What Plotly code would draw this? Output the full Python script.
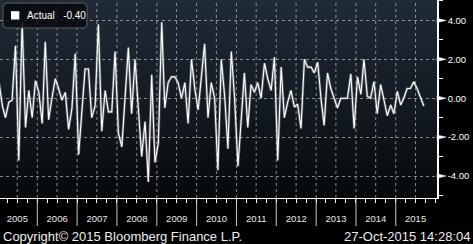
import base64
import pandas as pd
import plotly.graph_objects as go

# ---------------- data ----------------
dates = pd.date_range("2005-01-01", "2015-09-01", freq="MS") + pd.Timedelta(days=14)
values = [
    0.8, -0.4, -1.0, -0.2, -0.1, 2.7, -3.2, 3.9, -1.5, 0.4, -1.0, 0.9,      # 2005
    0.3, -1.3, 2.9, -1.1, 0.0, 1.0, 0.5, -0.1, 0.3, -1.6, -0.5, 2.3,        # 2006
    -2.9, -0.7, 1.5, 1.5, -1.0, -0.4, 3.8, -1.7, 0.4, -0.7, -0.7, 2.4,      # 2007
    -1.8, -2.5, 0.0, 2.6, -0.8, 2.0, -0.5, -3.0, -1.2, -4.3, 1.2, -3.3,     # 2008
    -2.3, 3.9, -0.5, 0.8, 1.1, 1.1, 0.8, 0.0, 0.8, -1.3, 2.0, 0.5,          # 2009
    -0.6, 1.0, 2.8, -1.0, 0.8, 0.0, -3.7, 2.0, 0.1, -2.6, 2.4, 0.0,         # 2010
    -3.5, -1.0, 1.3, -1.5, 0.7, 0.3, 0.8, 0.0, 1.8, 1.0, 0.4, 2.1,          # 2011
    -3.2, 1.6, -1.0, -0.2, 0.4, -0.45, -0.3, -1.55, 2.0, 1.6, 1.6, 1.3,     # 2012
    1.85, -0.05, -1.4, 1.3, 0.5, 0.0, -0.5, 0.0, 0.0, 0.0, 1.25, -1.55,     # 2013
    1.1, 0.2, 2.0, 0.1, 0.0, 0.85, -0.8, 0.7, -0.1, -0.9, -0.35, -0.8,      # 2014
    0.35, -0.35, 0.0, 0.5, 0.5, 0.85, 0.5, 0.0, -0.4,                       # 2015
]
series_name = "Actual"
y_ticks = [-4, -2, 0, 2, 4]
y_minor = [-5, -3, -1, 1, 3, 5]
years = list(range(2005, 2016))
year_labels = [str(y) for y in years]
x_range = ["2005-01-24", "2016-01-14"]
y_range = [-5.13, 5.05]
footer_left = "Copyright\u00a9 2015 Bloomberg Finance L.P."
footer_right = "27-Oct-2015 14:28:04"

# ---------------- geometry helpers ----------------
W, H = 473, 244
ML, MR, MT, MB = 0, 36, 0, 46
PW = W - ML - MR
PH = H - MT - MB
FONT = "Liberation Sans"


def px(x):
    return x / PW


def py(y):
    return 1 - y / PH


def vpaper(v):
    return (v - y_range[0]) / (y_range[1] - y_range[0])


# ---------------- background gradient ----------------
svg = (
    "<svg xmlns='http://www.w3.org/2000/svg' width='100' height='100' "
    "viewBox='0 0 100 100' preserveAspectRatio='none'>"
    "<defs><linearGradient id='g' x1='0' y1='0' x2='0' y2='1'>"
    "<stop offset='0' stop-color='#1f2b37'/>"
    "<stop offset='0.5' stop-color='#131b23'/>"
    "<stop offset='1' stop-color='#07090b'/>"
    "</linearGradient></defs>"
    "<rect width='100' height='100' fill='url(#g)'/></svg>"
)
bg_src = "data:image/svg+xml;base64," + base64.b64encode(svg.encode()).decode()

fig = go.Figure()
fig.add_trace(go.Scatter(
    x=dates, y=values, mode="lines",
    line=dict(color="rgba(150,150,150,0.55)", width=2.6),
    hoverinfo="skip", showlegend=False,
))
fig.add_trace(go.Scatter(
    x=dates, y=values, mode="lines", name=series_name,
    line=dict(color="white", width=1.1), showlegend=False,
))

shapes = []
# vertical dashed grid every half year
for y in years:
    for m in (1, 7):
        d = f"{y}-{m:02d}-01"
        if x_range[0] < d < x_range[1]:
            shapes.append(dict(type="line", xref="x", yref="paper", x0=d, x1=d, y0=0, y1=1,
                               line=dict(color="rgba(200,200,200,0.65)", width=1, dash="3px,3px"),
                               layer="below"))
# year separators below the axis
for y in years[1:]:
    d = f"{y}-01-01"
    shapes.append(dict(type="line", xref="x", yref="paper", x0=d, x1=d, y0=0, y1=py(226),
                       line=dict(color="rgba(220,220,220,0.9)", width=1), layer="above"))
# triangle tick markers on right axis
for v in y_ticks:
    yc = vpaper(v)
    hh = 2.2 / PH
    path = f"M 1,{yc + hh} L {1 + 9 / PW},{yc} L 1,{yc - hh} Z"
    shapes.append(dict(type="path", xref="paper", yref="paper", path=path,
                       fillcolor="white", line=dict(color="white", width=0.5), layer="above"))
# legend box with rounded corners
x0, x1, y0, y1, r = 3, 87, 3, 28, 4
pts = [
    ("M", x0 + r, y0), ("L", x1 - r, y0), ("Q", x1, y0, x1, y0 + r), ("L", x1, y1 - r),
    ("Q", x1, y1, x1 - r, y1), ("L", x0 + r, y1), ("Q", x0, y1, x0, y1 - r), ("L", x0, y0 + r),
    ("Q", x0, y0, x0 + r, y0),
]
path = ""
for p in pts:
    if p[0] == "Q":
        path += f"Q {px(p[1])},{py(p[2])} {px(p[3])},{py(p[4])} "
    else:
        path += f"{p[0]} {px(p[1])},{py(p[2])} "
path += "Z"
shapes.append(dict(type="path", xref="paper", yref="paper", path=path,
                   fillcolor="rgba(8,11,15,0.85)", line=dict(color="rgba(95,95,95,1)", width=1),
                   layer="above"))
shapes.append(dict(type="rect", xref="paper", yref="paper", x0=px(11), x1=px(19.3),
                   y0=py(19.5), y1=py(11.2), fillcolor="white", line=dict(width=0), layer="above"))

annotations = [
    dict(text=f"{series_name}\u00a0\u00a0\u00a0{values[-1]:.2f}", xref="paper", yref="paper",
         x=px(25), y=py(16), xanchor="left", yanchor="middle", showarrow=False,
         font=dict(family=FONT, size=10, color="white")),
    dict(text=footer_left, xref="paper", yref="paper", x=px(1), y=py(236.5),
         xanchor="left", yanchor="middle", showarrow=False,
         font=dict(family=FONT, size=13, color="#eeeeee")),
    dict(text=footer_right, xref="paper", yref="paper", x=px(472), y=py(236.5),
         xanchor="right", yanchor="middle", showarrow=False,
         font=dict(family=FONT, size=13, color="#eeeeee")),
]

fig.update_layout(
    width=W, height=H,
    margin=dict(l=ML, r=MR, t=MT, b=MB, pad=0),
    paper_bgcolor="black", plot_bgcolor="black",
    images=[dict(source=bg_src, xref="paper", yref="paper", x=0, y=1, sizex=1, sizey=1,
                 xanchor="left", yanchor="top", sizing="stretch", layer="below")],
    shapes=shapes, annotations=annotations,
    showlegend=False,
    xaxis=dict(
        type="date", range=x_range, showgrid=False, zeroline=False,
        showline=True, linecolor="white", linewidth=1,
        tickmode="array", tickvals=[f"{y}-07-02" for y in years], ticktext=year_labels,
        ticks="outside", ticklen=12, tickcolor="rgba(0,0,0,0)",
        tickfont=dict(family=FONT, size=9.5, color="#e8e8e8"),
        minor=dict(dtick="M3", tick0="2005-01-01", ticks="outside", ticklen=4,
                   tickcolor="white", showgrid=False),
    ),
    yaxis=dict(
        side="right", range=y_range, tickmode="array", tickvals=y_ticks,
        ticktext=[f"{v:.2f}" for v in y_ticks],
        showgrid=True, gridcolor="rgba(200,200,200,0.65)", griddash="3px,3px", gridwidth=1,
        zeroline=False, showline=True, linecolor="white", linewidth=1.5,
        ticks="outside", ticklen=7, tickcolor="rgba(0,0,0,0)",
        tickfont=dict(family=FONT, size=9.5, color="white"),
        minor=dict(tickmode="array", tickvals=y_minor, ticks="outside", ticklen=4,
                   tickcolor="white", showgrid=False),
    ),
)

fig.write_html(
    "out.html",
    config={"displayModeBar": False},
    post_script="document.body.style.margin='0px';document.body.style.overflow='hidden';",
)
